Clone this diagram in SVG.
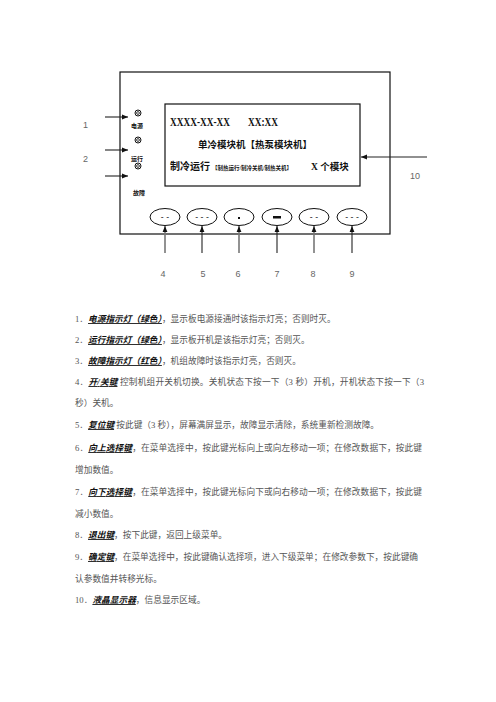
<svg xmlns="http://www.w3.org/2000/svg" width="496" height="702" viewBox="0 0 496 702">
<defs>
<marker id="ah" viewBox="0 0 10 10" refX="10" refY="5" markerWidth="6" markerHeight="6" orient="auto" markerUnits="userSpaceOnUse">
<path d="M0,1 L10,5 L0,9 Z" fill="#111"/>
</marker>
</defs>
<style>
.box{fill:#fff;stroke:#111;stroke-width:1.2}
.btn{fill:#fff;stroke:#111;stroke-width:1}
.ar{stroke:#222;stroke-width:1.1;fill:none;marker-end:url(#ah)}
.ar2{stroke:#777;stroke-width:1.6;fill:none;marker-end:url(#ah)}
.num{font-family:"Liberation Sans",sans-serif;font-size:9px;fill:#666}
.lcd{font-family:"Liberation Serif","Noto Sans CJK SC",serif;font-weight:bold;fill:#111}
.ind{font-family:"Noto Sans CJK SC",sans-serif;font-weight:bold;font-size:6px;fill:#111}
.sym{font-family:"DejaVu Sans",sans-serif;font-size:8px;fill:#111}
.t{font-family:"Liberation Serif","Noto Sans CJK SC",serif;font-size:8.7px;fill:#555}
.k{font-weight:bold;font-style:italic;text-decoration:underline;fill:#111}
</style>
<rect width="496" height="702" fill="#fff"/>
<g id="panel">
<rect class="box" x="120" y="72" width="270" height="162"/>
</g>
<g id="lcd">
<rect class="box" x="165" y="104" width="195" height="82"/>
<text class="lcd" x="170" y="126" font-size="12.5" textLength="60" lengthAdjust="spacingAndGlyphs">XXXX-XX-XX</text>
<text class="lcd" x="248" y="126" font-size="12.5" textLength="30" lengthAdjust="spacingAndGlyphs">XX:XX</text>
<text class="lcd" x="198" y="148" font-size="9.5" font-family="Noto Sans CJK SC,sans-serif">单冷模块机【热泵模块机】</text>
<text class="lcd" x="170" y="170" font-size="10" font-family="Noto Sans CJK SC,sans-serif">制冷运行<tspan font-size="5.5" dx="2">【制热运行/制冷关机/制热关机】</tspan></text>
<text class="lcd" x="311" y="170" font-size="9.5" font-family="Noto Sans CJK SC,sans-serif"><tspan font-family="Liberation Serif">X</tspan> 个模块</text>
</g>
<g id="indicator-power">
<circle cx="138" cy="113" r="3" fill="none" stroke="#111" stroke-width="1"/>
<circle cx="138" cy="113" r="1.4" fill="none" stroke="#111" stroke-width="0.8"/>
<text class="ind" x="131" y="128">电源</text>
</g>
<g id="indicator-run">
<circle cx="138" cy="140" r="3" fill="none" stroke="#111" stroke-width="1"/>
<circle cx="138" cy="140" r="1.4" fill="none" stroke="#111" stroke-width="0.8"/>
<text class="ind" x="131" y="161">运行</text>
</g>
<g id="indicator-fault">
<circle cx="138" cy="166" r="3" fill="none" stroke="#111" stroke-width="1"/>
<circle cx="138" cy="166" r="1.4" fill="none" stroke="#111" stroke-width="0.8"/>
<text class="ind" x="133" y="195">故障</text>
</g>
<g id="buttons">
<g id="btn4"><ellipse class="btn" cx="165" cy="217" rx="15" ry="8.5"/><text class="sym" x="165" y="220" text-anchor="middle">- -</text></g>
<g id="btn5"><ellipse class="btn" cx="202" cy="217" rx="15" ry="8.5"/><text class="sym" x="202" y="220" text-anchor="middle">- - -</text></g>
<g id="btn6"><ellipse class="btn" cx="239" cy="217" rx="15" ry="8.5"/><rect x="238" y="217" width="2" height="2" fill="#111"/></g>
<g id="btn7"><ellipse class="btn" cx="277" cy="217" rx="15" ry="8.5"/><rect x="273" y="216" width="8" height="2.5" fill="#111"/></g>
<g id="btn8"><ellipse class="btn" cx="314" cy="217" rx="15" ry="8.5"/><text class="sym" x="314" y="220" text-anchor="middle">- -</text></g>
<g id="btn9"><ellipse class="btn" cx="352" cy="217" rx="15" ry="8.5"/><text class="sym" x="352" y="220" text-anchor="middle">- - -</text></g>
</g>
<g id="connectors">
<line class="ar" x1="105" y1="117" x2="128" y2="117"/>
<line class="ar" x1="105" y1="150" x2="128" y2="150"/>
<line class="ar" x1="105" y1="176" x2="128" y2="176"/>
<line class="ar" x1="427" y1="157" x2="361" y2="157"/>
<line class="ar2" x1="165" y1="253" x2="165" y2="226"/>
<line class="ar" x1="202" y1="253" x2="202" y2="226"/>
<line class="ar2" x1="239" y1="253" x2="239" y2="226"/>
<line class="ar" x1="277" y1="253" x2="277" y2="226"/>
<line class="ar2" x1="314" y1="253" x2="314" y2="226"/>
<line class="ar" x1="352" y1="253" x2="352" y2="226"/>
</g>
<g id="labels">
<text class="num" x="83" y="128">1</text>
<text class="num" x="83" y="162">2</text>
<text class="num" x="410" y="179">10</text>
<text class="num" x="163" y="277" text-anchor="middle">4</text>
<text class="num" x="203" y="277" text-anchor="middle">5</text>
<text class="num" x="238" y="277" text-anchor="middle">6</text>
<text class="num" x="277" y="277" text-anchor="middle">7</text>
<text class="num" x="313" y="277" text-anchor="middle">8</text>
<text class="num" x="352" y="277" text-anchor="middle">9</text>
</g>
<g id="description">
<text class="t" x="75" y="322">1．<tspan class="k">电源指示灯（绿色）</tspan>，显示板电源接通时该指示灯亮；否则时灭。</text>
<text class="t" x="75" y="343">2．<tspan class="k">运行指示灯（绿色）</tspan>，显示板开机是该指示灯亮；否则灭。</text>
<text class="t" x="75" y="364">3．<tspan class="k">故障指示灯（红色）</tspan>，机组故障时该指示灯亮，否则灭。</text>
<text class="t" x="75" y="385" textLength="349" lengthAdjust="spacing">4．<tspan class="k">开/关键</tspan>  控制机组开关机切换。关机状态下按一下（3 秒）开机，开机状态下按一下（3</text>
<text class="t" x="75" y="406">秒）关机。</text>
<text class="t" x="75" y="428">5．<tspan class="k">复位键</tspan> 按此键（3 秒），屏幕满屏显示，故障显示清除，系统重新检测故障。</text>
<text class="t" x="75" y="451" textLength="347" lengthAdjust="spacing">6．<tspan class="k">向上选择键</tspan>，在菜单选择中，按此键光标向上或向左移动一项；在修改数据下，按此键</text>
<text class="t" x="75" y="473">增加数值。</text>
<text class="t" x="75" y="495" textLength="347" lengthAdjust="spacing">7．<tspan class="k">向下选择键</tspan>，在菜单选择中，按此键光标向下或向右移动一项；在修改数据下，按此键</text>
<text class="t" x="75" y="517">减小数值。</text>
<text class="t" x="75" y="538">8．<tspan class="k">退出键</tspan>，按下此键，返回上级菜单。</text>
<text class="t" x="75" y="560" textLength="343" lengthAdjust="spacing">9．<tspan class="k">确定键</tspan>，在菜单选择中，按此键确认选择项，进入下级菜单；在修改参数下，按此键确</text>
<text class="t" x="75" y="582">认参数值并转移光标。</text>
<text class="t" x="75" y="603">10．<tspan class="k">液晶显示器</tspan>，信息显示区域。</text>
</g>
</svg>
